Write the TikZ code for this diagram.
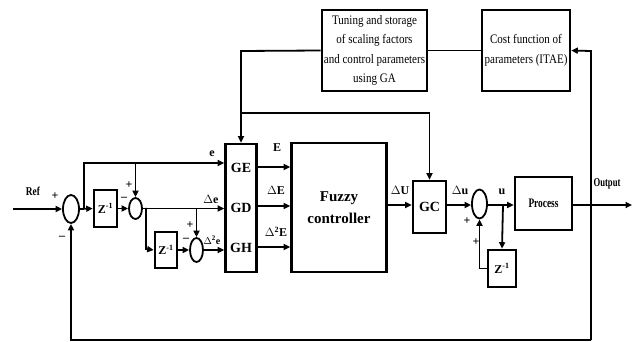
\documentclass[tikz,border=0pt]{standalone}
\usepackage{fontspec}
\setmainfont{Liberation Serif}
\newfontfamily\cond[FakeStretch=0.85]{Liberation Serif}
\usetikzlibrary{arrows.meta,shapes.geometric}
\begin{document}
\begin{tikzpicture}[x=1pt,y=-1pt,
  blk/.style={draw, line width=2.6pt, inner sep=0pt, align=center},
  zbox/.style={blk, minimum width=22pt, minimum height=36pt, font=\fontsize{12}{12}\selectfont\bfseries},
  gain/.style={font=\fontsize{14}{14}\selectfont\bfseries},
  sumj/.style={draw, ellipse, line width=1.8pt, inner sep=0pt},
  wire/.style={line width=1.8pt},
  arr/.style={wire, -{Triangle[length=6.5pt,width=6pt]}},
  lbl/.style={font=\fontsize{12}{12}\selectfont\bfseries, inner sep=0pt},
  sgn/.style={font=\fontsize{12}{12}\selectfont\bfseries, inner sep=0pt}
]
\useasboundingbox (0,0) rectangle (635,342);

% top boxes
\node[blk, minimum width=105pt, minimum height=81pt, font=\cond\fontsize{13}{19.5}\selectfont] (tune) at (374.5,50.5)
  {Tuning and storage\\of scaling factors\\and control parameters\\using GA};
\node[blk, minimum width=88pt, minimum height=81pt, font=\cond\fontsize{13}{19.5}\selectfont] (cost) at (526,50.5)
  {Cost function of\\parameters (ITAE)};

% summing junctions
\node[sumj, minimum width=16pt, minimum height=28pt] (s1) at (71,209) {};
\node[sumj, minimum width=13pt, minimum height=21pt] (s2) at (135.5,208.5) {};
\node[sumj, minimum width=13pt, minimum height=24pt] (s3) at (196.5,250) {};
\node[sumj, minimum width=15pt, minimum height=29pt] (s4) at (479.5,204) {};

% delay blocks
\node[zbox, minimum width=23pt, minimum height=37pt] (z1) at (105.5,208.5) {Z\textsuperscript{-1}};
\node[zbox] (z2) at (166,250) {Z\textsuperscript{-1}};
\node[zbox, minimum width=28pt, minimum height=37pt] (z3) at (502,268.5) {Z\textsuperscript{-1}};

% gain block
\node[blk, minimum width=31pt, minimum height=128pt] (g) at (241,208) {};
\node[gain] (ge) at (241,168) {GE};
\node[gain] (gd) at (241,208) {GD};
\node[gain] (gh) at (241,248) {GH};

% fuzzy controller
\node[blk, minimum width=95pt, minimum height=129pt, font=\fontsize{15}{22}\selectfont\bfseries] (fz) at (339,207.5) {Fuzzy\\controller};

% GC and process
\node[blk, minimum width=33pt, minimum height=52pt, font=\fontsize{14}{14}\selectfont\bfseries] (gc) at (429.5,207) {GC};
\node[blk, minimum width=57pt, minimum height=53pt, font=\fontsize{13}{13}\selectfont\bfseries] (pr) at (543.5,203.5) {\scalebox{0.72}[1]{Process}};

% coordinates
\coordinate (ref) at (13,209);
\coordinate (b1) at (84,209);
\coordinate (b1t) at (84,163);
\coordinate (b2) at (146,208);
\coordinate (b2b) at (146,249);
\coordinate (out) at (632,205);
\coordinate (fbt) at (591,51);
\coordinate (fbb) at (591,340);
\coordinate (fbl) at (71,340);
\coordinate (tl) at (241,51);
\coordinate (tj) at (241,113);
\coordinate (tr) at (429.5,113);
\coordinate (ub) at (503,205);
\coordinate (zl) at (479.5,268.5);

% reference input
\draw[arr] (ref) -- (s1.west);
\node[lbl] at (33,191) {\scalebox{0.78}[1]{Ref}};
\node[sgn] at (55,196) {+};
\node[sgn] at (62,238) {\textendash};

% error path
\draw[arr] (s1.east) -- (z1.west);
\draw[arr] (b1) -- (b1t) -- (g.west |- b1t);
\node[lbl] at (212,154) {e};
\draw[arr] (z1.east) -- (s2.west);
\draw[arr] (s2 |- b1t) -- (s2.north);
\node[sgn] at (129,185) {+};
\node[sgn] at (124,199) {\textendash};
\draw[arr] (s2.east) -- (g.west |- s2.east);
\node[lbl] at (211,199) {$\Delta$e};
\draw[arr] (b2) -- (b2b) -- (z2.west);
\draw[arr] (z2.east) -- (s3.west);
\draw[arr] (s3 |- b2) -- (s3.north);
\node[sgn] at (190,225) {+};
\node[sgn] at (186,240) {\textendash};
\draw[arr] (s3.east) -- (g.west |- s3.east);
\node[lbl] at (212,240) {\fontsize{10}{10}\selectfont$\Delta$\textsuperscript{2}e};

% gain to fuzzy
\draw[arr] (g.east |- 0,167) -- (fz.west |- 0,167);
\draw[arr] (g.east |- 0,206) -- (fz.west |- 0,206);
\draw[arr] (g.east |- 0,247) -- (fz.west |- 0,247);
\node[lbl] at (277,148) {E};
\node[lbl] at (276,190) {$\Delta$E};
\node[lbl] at (276,232) {$\Delta$\textsuperscript{2}E};

% fuzzy to GC to plant
\draw[arr] (fz.east |- 0,205) -- (gc.west |- 0,205);
\node[lbl] at (400,190) {$\Delta$U};
\draw[arr] (gc.east |- 0,205) -- (s4.west |- 0,205);
\node[lbl] at (460,190) {$\Delta$u};
\draw[arr] (s4.east |- 0,205) -- (pr.west |- 0,205);
\node[lbl] at (502,192) {u};
\draw[arr] (ub) -- (z3.north);
\draw[arr] (z3.west) -- (zl) -- (s4.south);
\node[sgn] at (467,221) {+};
\node[sgn] at (476,242) {+};

% output
\draw[arr] (pr.east |- 0,205) -- (out);
\node[lbl] at (607,184) {\scalebox{0.72}[1]{Output}};

% feedback loops
\draw[arr] (fbb) -- (fbl) -- (s1.south);
\draw[arr] (fbb) -- (fbt) -- (cost.east);

% GA tuning paths
\draw[wire] (cost.west) -- (tune.east);
\draw[arr] (tune.west) -- (tl) -- (g.north);
\draw[arr] (tj) -- (tr) -- (gc.north);
\end{tikzpicture}
\end{document}
